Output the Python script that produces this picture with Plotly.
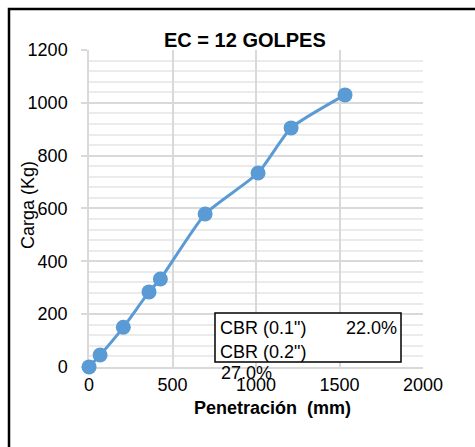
import plotly.graph_objects as go

penetracion = [0, 66, 205, 359, 427, 695, 1012, 1210, 1533]
carga = [0, 45, 150, 284, 333, 579, 734, 905, 1030]
x_ticks = [0, 500, 1000, 1500, 2000]
y_ticks = [0, 200, 400, 600, 800, 1000, 1200]
titulo = "EC = 12 GOLPES"
cbr_labels = ['CBR (0.1")', 'CBR (0.2")']
cbr_values = ["22.0%", "27.0%"]

FONT = "Liberation Sans"
W, H = 475, 447
L, R, T, B = 89, 52, 50, 80
pw, ph = W - L - R, H - T - B

def px(x):
    return (x - L) / pw

def py(y):
    return (H - B - y) / ph

fig = go.Figure()
fig.add_trace(go.Scatter(
    x=penetracion, y=carga, mode="lines+markers",
    line=dict(color="#5B9BD5", width=3, shape="spline", smoothing=0.5),
    marker=dict(color="#5B9BD5", size=15, opacity=1),
    showlegend=False, hoverinfo="skip", cliponaxis=False,
))

fig.update_layout(
    width=W, height=H,
    margin=dict(l=L, r=R, t=T, b=B),
    paper_bgcolor="white", plot_bgcolor="white",
    font=dict(family=FONT, size=18, color="black"),
    xaxis=dict(
        range=[-0.5, 2000], tickvals=x_ticks, ticktext=[str(v) for v in x_ticks],
        showgrid=True, gridcolor="#D9D9D9", gridwidth=1.5,
        showline=True, linecolor="#D9D9D9", linewidth=1.5,
        zeroline=False, ticks="", tickfont=dict(size=18),
        ticklabelstandoff=1, layer="below traces",
    ),
    yaxis=dict(
        range=[-0.3, 1200], tickvals=y_ticks, ticktext=[str(v) for v in y_ticks],
        showgrid=True, gridcolor="#D9D9D9", gridwidth=1.5,
        showline=True, linecolor="#D9D9D9", linewidth=1.5,
        zeroline=False, ticks="outside", ticklen=6, tickcolor="#D9D9D9",
        tickwidth=1.5, tickfont=dict(size=18), ticklabelstandoff=10,
        layer="below traces",
        minor=dict(dtick=40, showgrid=True, gridcolor="#EBEBEB", gridwidth=1.5, ticks=""),
    ),
)

# Title
fig.add_annotation(text="<b>" + titulo + "</b>", xref="paper", yref="paper",
                   x=px(245), y=py(40), showarrow=False, font=dict(size=20, family=FONT),
                   xanchor="center", yanchor="middle")
# Axis titles
fig.add_annotation(text="<b>Penetración  (mm)</b>", xref="paper", yref="paper",
                   x=px(272), y=py(408), showarrow=False, font=dict(size=18, family=FONT),
                   xanchor="center", yanchor="middle")
fig.add_annotation(text="Carga (Kg)", xref="paper", yref="paper",
                   x=px(28), y=py(205), showarrow=False, font=dict(size=18, family=FONT),
                   textangle=-90, xanchor="center", yanchor="middle")

# CBR box
fig.add_shape(type="rect", xref="paper", yref="paper",
              x0=px(215), x1=px(401), y0=py(362), y1=py(313),
              line=dict(color="black", width=1.5), fillcolor="white", layer="above")
fig.add_annotation(text=cbr_labels[0], xref="paper", yref="paper", x=px(218), y=py(328),
                   showarrow=False, xanchor="left", yanchor="middle", font=dict(size=18, family=FONT))
fig.add_annotation(text=cbr_values[0], xref="paper", yref="paper", x=px(399), y=py(328),
                   showarrow=False, xanchor="right", yanchor="middle", font=dict(size=18, family=FONT))
fig.add_annotation(text=cbr_labels[1], xref="paper", yref="paper", x=px(218), y=py(352),
                   showarrow=False, xanchor="left", yanchor="middle", font=dict(size=18, family=FONT))
fig.add_annotation(text=cbr_values[1], xref="paper", yref="paper", x=px(219), y=py(373),
                   showarrow=False, xanchor="left", yanchor="middle", font=dict(size=18, family=FONT))

# Outer chart border (extends beyond image on right/bottom)
fig.add_shape(type="rect", xref="paper", yref="paper",
              x0=px(9), x1=px(490), y0=py(470), y1=py(9),
              line=dict(color="black", width=2.5), layer="above")

fig.write_html("out.html")
